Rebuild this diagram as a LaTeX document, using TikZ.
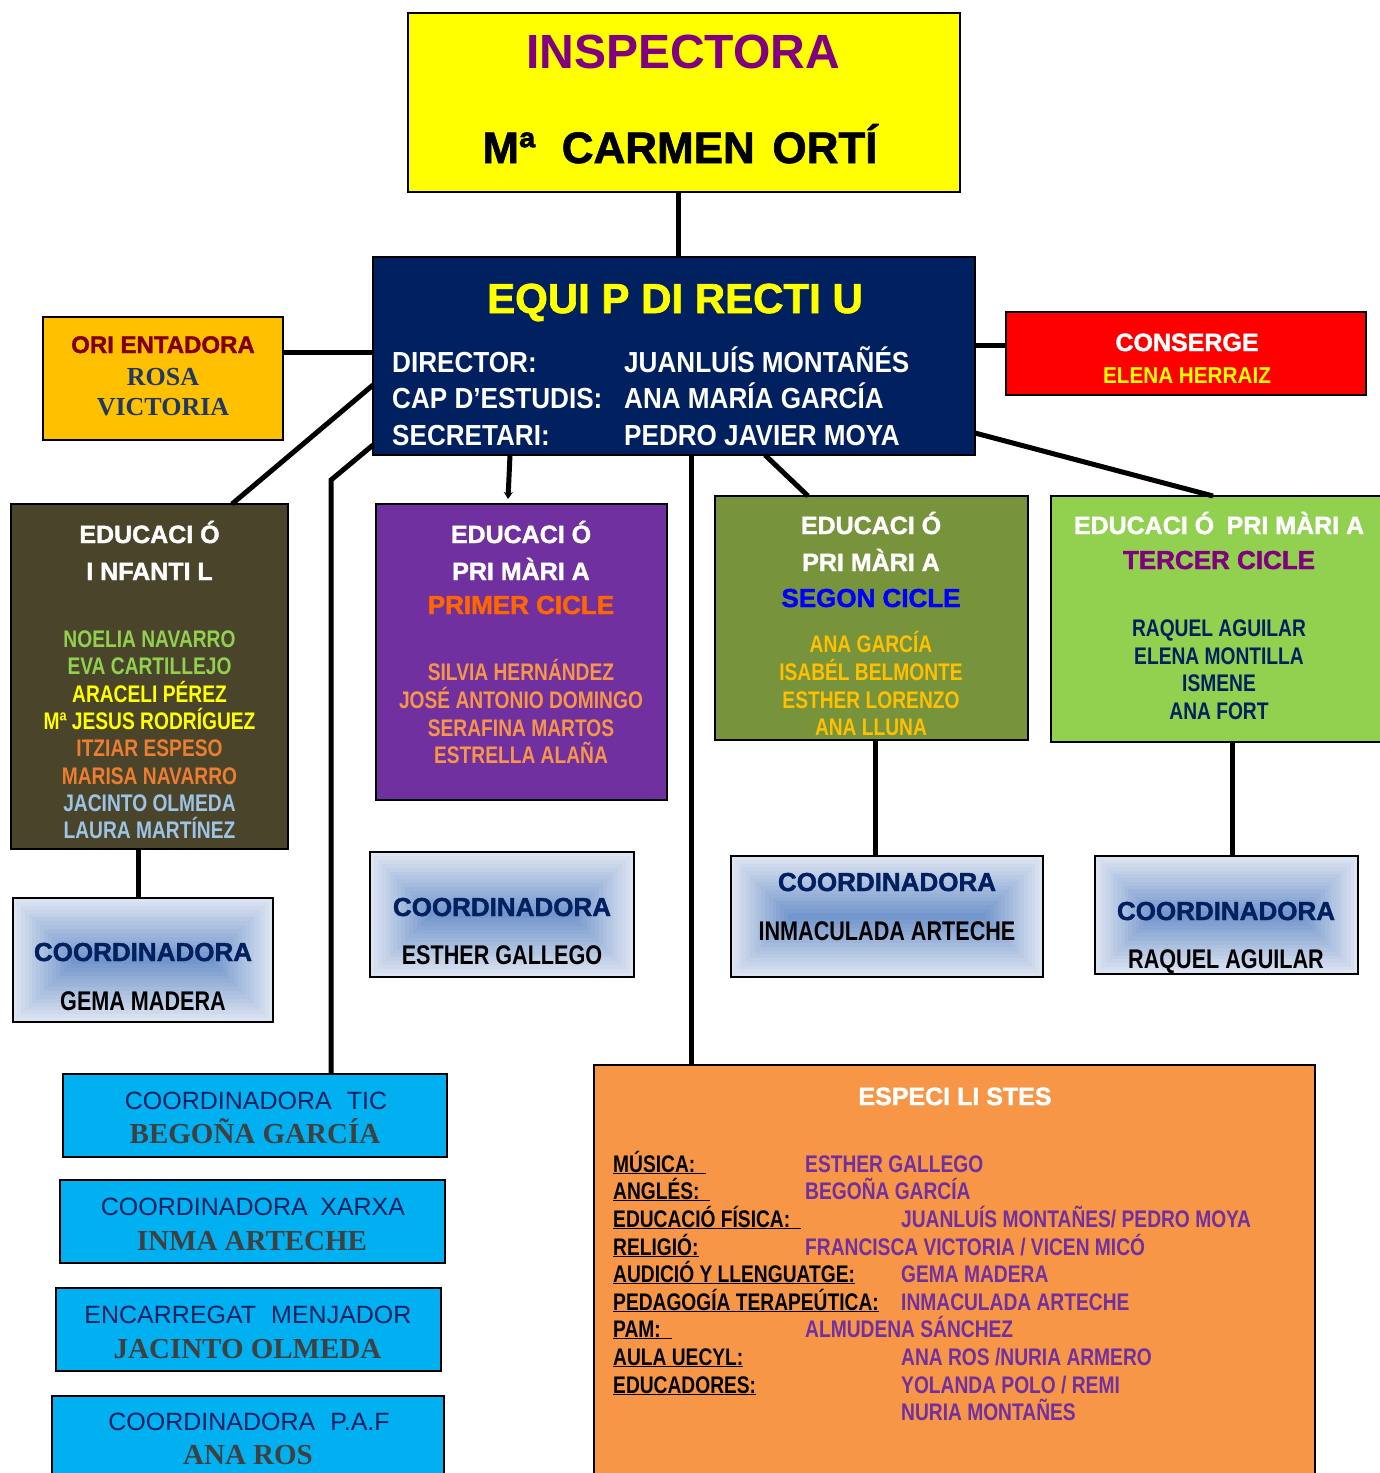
\documentclass[tikz,border=0pt]{standalone}
\usepackage{fontspec}
\setmainfont{Liberation Sans}
\newfontfamily\nar[FakeStretch=0.8]{Liberation Sans}
\newfontfamily\narw[FakeStretch=0.9]{Liberation Sans}
\newfontfamily\blk[BoldFeatures={FakeBold=1.6}]{Liberation Sans}
\newfontfamily\ser{Liberation Serif}
\usetikzlibrary{calc,arrows.meta}
\newcommand\fs[1]{\fontsize{#1}{#1}\selectfont}
\definecolor{cYellow}{HTML}{FFFF00}
\definecolor{cPurple}{HTML}{800080}
\definecolor{cNavy}{HTML}{002060}
\definecolor{cGold}{HTML}{FFC000}
\definecolor{cDarkRed}{HTML}{800000}
\definecolor{cRosa}{HTML}{1F3864}
\definecolor{cRed}{HTML}{FF0000}
\definecolor{cInf}{HTML}{4A452A}
\definecolor{cGreen}{HTML}{92D050}
\definecolor{cOrange}{HTML}{ED7D31}
\definecolor{cLBlue}{HTML}{9DC3E6}
\definecolor{cViolet}{HTML}{7030A0}
\definecolor{cOrangeB}{HTML}{FF6600}
\definecolor{cPeach}{HTML}{F79646}
\definecolor{cOlive}{HTML}{77933C}
\definecolor{cBlue}{HTML}{0000FF}
\definecolor{cSky}{HTML}{00B0F0}
\definecolor{cGray}{HTML}{404040}
\definecolor{gLight}{HTML}{DCE4F1}
\definecolor{gDark}{HTML}{7396CC}
\newcommand\gradfill[4]{%
  \foreach \i in {0,...,15}{%
    \pgfmathsetmacro\dd{\i*(#4-#2)/32}%
    \pgfmathtruncatemacro\pp{\i*100/15}%
    \fill[gDark!\pp!gLight] ({#1+\dd},{#2+\dd}) rectangle ({#3-\dd},{#4-\dd});
  }}
\begin{document}
\begin{tikzpicture}[x=1pt,y=-1pt,
  box/.style={draw=black, line width=1.5pt, anchor=north west, inner sep=0pt, outer sep=0pt},
  txt/.style={inner sep=0pt, anchor=base},
  txtl/.style={inner sep=0pt, anchor=base west},
  link/.style={line width=5pt, draw=black},
  ttl/.style={txt, text=white, font=\blk\fs{25}\bfseries},
  nm/.style={txt, font=\nar\fs{24}\bfseries},
  coordT/.style={txt, text=cNavy, font=\blk\fs{26}\bfseries},
  coordN/.style={txt, text=black, font=\nar\fs{27}\bfseries},
  hand/.style={txt, text=cNavy, font=\fs{25}},
  serN/.style={txt, text=cGray, font=\ser\fs{29}\bfseries},
  lab/.style={txtl, text=black, font=\nar\fs{24}\bfseries},
  val/.style={txtl, text=cViolet, font=\nar\fs{24}\bfseries}]
\useasboundingbox (0,0) rectangle (1380,1473);
\fill[white] (0,0) rectangle (1380,1473);

% gradient fills for coordinator boxes
\gradfill{13}{898}{273}{1022}
\gradfill{370}{852}{634}{977}
\gradfill{731}{856}{1043}{977}
\gradfill{1095}{856}{1358}{974}

% boxes
\node[box, fill=cYellow, minimum width=552pt, minimum height=179pt] (insp) at (408,13) {};
\node[box, fill=cNavy, minimum width=602pt, minimum height=198pt] (equip) at (373,257) {};
\node[box, fill=cGold, minimum width=240pt, minimum height=123pt] (orient) at (43,317) {};
\node[box, fill=cRed, minimum width=360pt, minimum height=83pt] (conserge) at (1006,312) {};
\node[box, fill=cInf, minimum width=277pt, minimum height=345pt] (inf) at (11,504) {};
\node[box, fill=cViolet, minimum width=291pt, minimum height=296pt] (prim1) at (376,504) {};
\node[box, fill=cOlive, minimum width=313pt, minimum height=244pt] (prim2) at (715,496) {};
\node[box, fill=cGreen, minimum width=331pt, minimum height=246pt] (prim3) at (1051,496) {};
\node[box, minimum width=260pt, minimum height=124pt] (gema) at (13,898) {};
\node[box, minimum width=264pt, minimum height=125pt] (esther) at (370,852) {};
\node[box, minimum width=312pt, minimum height=121pt] (inma) at (731,856) {};
\node[box, minimum width=263pt, minimum height=118pt] (raquel) at (1095,856) {};
\node[box, fill=cSky, minimum width=384pt, minimum height=83pt] (tic) at (63,1074) {};
\node[box, fill=cSky, minimum width=385pt, minimum height=83pt] (xarxa) at (60,1180) {};
\node[box, fill=cSky, minimum width=385pt, minimum height=83pt] (menj) at (56,1288) {};
\node[box, fill=cSky, minimum width=392pt, minimum height=90pt] (paf) at (52,1396) {};
\node[box, fill=cPeach, minimum width=721pt, minimum height=420pt] (esp) at (594,1065) {};

% connectors
\draw[link] ([xshift=-6pt]insp.south) -- ([xshift=-6pt]insp.south |- equip.north);
\coordinate (oy) at ($(orient.north east)+(0,35)$);
\draw[link] (oy) -- (oy -| equip.west);
\coordinate (cy) at ($(conserge.north west)+(0,33)$);
\draw[link] (cy) -- (cy -| equip.east);
\draw[link] ($(equip.north west)+(0,128)$) -- ($(inf.north west)+(221,0)$);
\coordinate (ticTop) at ($(tic.north west)+(268,0)$);
\coordinate (bend) at (331,480);
\draw[link] ($(equip.north west)+(0,188)$) -- (bend) -- (ticTop);
\coordinate (p1s) at ($(equip.south west)+(137,0)$);
\draw[link, -{Stealth[length=7pt,width=9pt]}] (p1s) -- ($(p1s |- prim1.north)+(-2,-5)$);
\coordinate (esps) at ($(equip.south west)+(318,0)$);
\draw[link] (esps) -- (esps |- esp.north);
\draw[link] ($(equip.south west)+(392,0)$) -- ($(prim2.north west)+(93,0)$);
\draw[link] ($(equip.north east)+(0,176)$) -- ($(prim3.north west)+(162,0)$);
\coordinate (infs) at ($(inf.south west)+(127,0)$);
\draw[link] (infs) -- (infs |- gema.north);
\coordinate (p2s) at ($(prim2.south west)+(160,0)$);
\draw[link] (p2s) -- (p2s |- inma.north);
\coordinate (p3s) at ($(prim3.south west)+(181,0)$);
\draw[link] (p3s) -- (p3s |- raquel.north);

% INSPECTORA
\node[txt, text=cPurple, font=\fs{48}\bfseries] (inspT) at (683,68) {INSPECTORA};
\node[txt, text=black, font=\blk\fs{44}\bfseries] (inspN) at (680,163) {Mª\hspace{0.6em}CARMEN\hspace{0.4em}ORTÍ};

% EQUIP DIRECTIU
\node[txt, text=cYellow, font=\blk\fs{42}\bfseries] (eqT) at (675,313) {EQUI P DI RECTI U};
\node[txtl, text=white, font=\narw\fs{29}\bfseries] (eqL1) at (392,372) {DIRECTOR:};
\node[txtl, text=white, font=\narw\fs{29}\bfseries] (eqL2) at (392,408) {CAP D’ESTUDIS:};
\node[txtl, text=white, font=\narw\fs{29}\bfseries] (eqL3) at (392,445) {SECRETARI:};
\node[txtl, text=white, font=\narw\fs{29}\bfseries] (eqV1) at (624,372) {JUANLUÍS MONTAÑÉS};
\node[txtl, text=white, font=\narw\fs{29}\bfseries] (eqV2) at (624,408) {ANA MARÍA GARCÍA};
\node[txtl, text=white, font=\narw\fs{29}\bfseries] (eqV3) at (624,445) {PEDRO JAVIER MOYA};

% ORIENTADORA
\node[txt, text=cDarkRed, font=\blk\fs{24}\bfseries] (orT) at (163,353) {ORI ENTADORA};
\node[txt, text=cRosa, font=\ser\fs{26}\bfseries] (orN1) at (163,385) {ROSA};
\node[txt, text=cRosa, font=\ser\fs{26}\bfseries] (orN2) at (163,415) {VICTORIA};

% CONSERGE
\node[txt, text=white, font=\blk\fs{25}\bfseries] (coT) at (1187,351) {CONSERGE};
\node[txt, text=cYellow, font=\narw\fs{23}\bfseries] (coN) at (1187,383) {ELENA HERRAIZ};

% INFANTIL
\node[ttl] (infT1) at (149.5,543) {EDUCACI Ó};
\node[ttl] (infT2) at (149.5,580) {I NFANTI L};
\node[nm, text=cGreen] (inf1) at (149.5,647) {NOELIA NAVARRO};
\node[nm, text=cGreen] (inf2) at (149.5,674) {EVA CARTILLEJO};
\node[nm, text=cYellow] (inf3) at (149.5,702) {ARACELI PÉREZ};
\node[nm, text=cYellow] (inf4) at (149.5,729) {Mª JESUS RODRÍGUEZ};
\node[nm, text=cOrange] (inf5) at (149.5,756) {ITZIAR ESPESO};
\node[nm, text=cOrange] (inf6) at (149.5,784) {MARISA NAVARRO};
\node[nm, text=cLBlue] (inf7) at (149.5,811) {JACINTO OLMEDA};
\node[nm, text=cLBlue] (inf8) at (149.5,838) {LAURA MARTÍNEZ};

% PRIMER CICLE
\node[ttl] (p1T1) at (521,543) {EDUCACI Ó};
\node[ttl] (p1T2) at (521,580) {PRI MÀRI A};
\node[ttl, text=cOrangeB, font=\blk\fs{26}\bfseries] (p1T3) at (521,614) {PRIMER CICLE};
\node[nm, text=cPeach] (p1a) at (521,680) {SILVIA HERNÁNDEZ};
\node[nm, text=cPeach] (p1b) at (521,708) {JOSÉ ANTONIO DOMINGO};
\node[nm, text=cPeach] (p1c) at (521,736) {SERAFINA MARTOS};
\node[nm, text=cPeach] (p1d) at (521,763) {ESTRELLA ALAÑA};

% SEGON CICLE
\node[ttl] (p2T1) at (871,534) {EDUCACI Ó};
\node[ttl] (p2T2) at (871,571) {PRI MÀRI A};
\node[ttl, text=cBlue, font=\blk\fs{26}\bfseries] (p2T3) at (871,607) {SEGON CICLE};
\node[nm, text=cGold] (p2a) at (871,652) {ANA GARCÍA};
\node[nm, text=cGold] (p2b) at (871,680) {ISABÉL BELMONTE};
\node[nm, text=cGold] (p2c) at (871,708) {ESTHER LORENZO};
\node[nm, text=cGold] (p2d) at (871,735) {ANA LLUNA};

% TERCER CICLE
\node[ttl] (p3T1) at (1219,534) {EDUCACI Ó\hspace{0.5em}PRI MÀRI A};
\node[ttl, text=cPurple, font=\blk\fs{26}\bfseries] (p3T2) at (1219,569) {TERCER CICLE};
\node[nm, text=cNavy] (p3a) at (1219,636) {RAQUEL AGUILAR};
\node[nm, text=cNavy] (p3b) at (1219,664) {ELENA MONTILLA};
\node[nm, text=cNavy] (p3c) at (1219,691) {ISMENE};
\node[nm, text=cNavy] (p3d) at (1219,719) {ANA FORT};

% COORDINADORES
\node[coordT] (gemaT) at (143,961) {COORDINADORA};
\node[coordN] (gemaN) at (143,1010) {GEMA MADERA};
\node[coordT] (estherT) at (502,916) {COORDINADORA};
\node[coordN] (estherN) at (502,964) {ESTHER GALLEGO};
\node[coordT] (inmaT) at (887,891) {COORDINADORA};
\node[coordN] (inmaN) at (887,940) {INMACULADA ARTECHE};
\node[coordT] (raquelT) at (1226,920) {COORDINADORA};
\node[coordN] (raquelN) at (1226,968) {RAQUEL AGUILAR};

% BLUE BOXES
\node[hand] (ticT) at (256,1109) {COORDINADORA\hspace{0.6em}TIC};
\node[serN] (ticN) at (255,1143) {BEGOÑA GARCÍA};
\node[hand] (xarxaT) at (253,1215) {COORDINADORA\hspace{0.5em}XARXA};
\node[serN] (xarxaN) at (252,1250) {INMA ARTECHE};
\node[hand] (menjT) at (248,1323) {ENCARREGAT\hspace{0.6em}MENJADOR};
\node[serN] (menjN) at (247.5,1358) {JACINTO OLMEDA};
\node[hand] (pafT) at (249,1430) {COORDINADORA\hspace{0.6em}P.A.F};
\node[serN] (pafN) at (248,1464) {ANA ROS};

% ESPECIALISTES
\node[txt, text=white, font=\blk\fs{25}\bfseries] (espT) at (955,1105) {ESPECI LI STES};
\node[lab] (l1) at (613,1172) {\underline{MÚSICA:\ \ }};
\node[lab] (l2) at (613,1199) {\underline{ANGLÉS:\ \ }};
\node[lab] (l3) at (613,1227) {\underline{EDUCACIÓ FÍSICA:\ \ }};
\node[lab] (l4) at (613,1255) {\underline{RELIGIÓ:}};
\node[lab] (l5) at (613,1282) {\underline{AUDICIÓ Y LLENGUATGE:}};
\node[lab] (l6) at (613,1310) {\underline{PEDAGOGÍA TERAPEÚTICA:}};
\node[lab] (l7) at (613,1337) {\underline{PAM:\ \ }};
\node[lab] (l8) at (613,1365) {\underline{AULA UECYL:}};
\node[lab] (l9) at (613,1393) {\underline{EDUCADORES:}};
\node[val] (v1) at (805,1172) {ESTHER GALLEGO};
\node[val] (v2) at (805,1199) {BEGOÑA GARCÍA};
\node[val] (v3) at (901,1227) {JUANLUÍS MONTAÑES/ PEDRO MOYA};
\node[val] (v4) at (805,1255) {FRANCISCA VICTORIA / VICEN MICÓ};
\node[val] (v5) at (901,1282) {GEMA MADERA};
\node[val] (v6) at (901,1310) {INMACULADA ARTECHE};
\node[val] (v7) at (805,1337) {ALMUDENA SÁNCHEZ};
\node[val] (v8) at (901,1365) {ANA ROS /NURIA ARMERO};
\node[val] (v9) at (901,1393) {YOLANDA POLO / REMI};
\node[val] (v10) at (901,1420) {NURIA MONTAÑES};
\end{tikzpicture}
\end{document}
